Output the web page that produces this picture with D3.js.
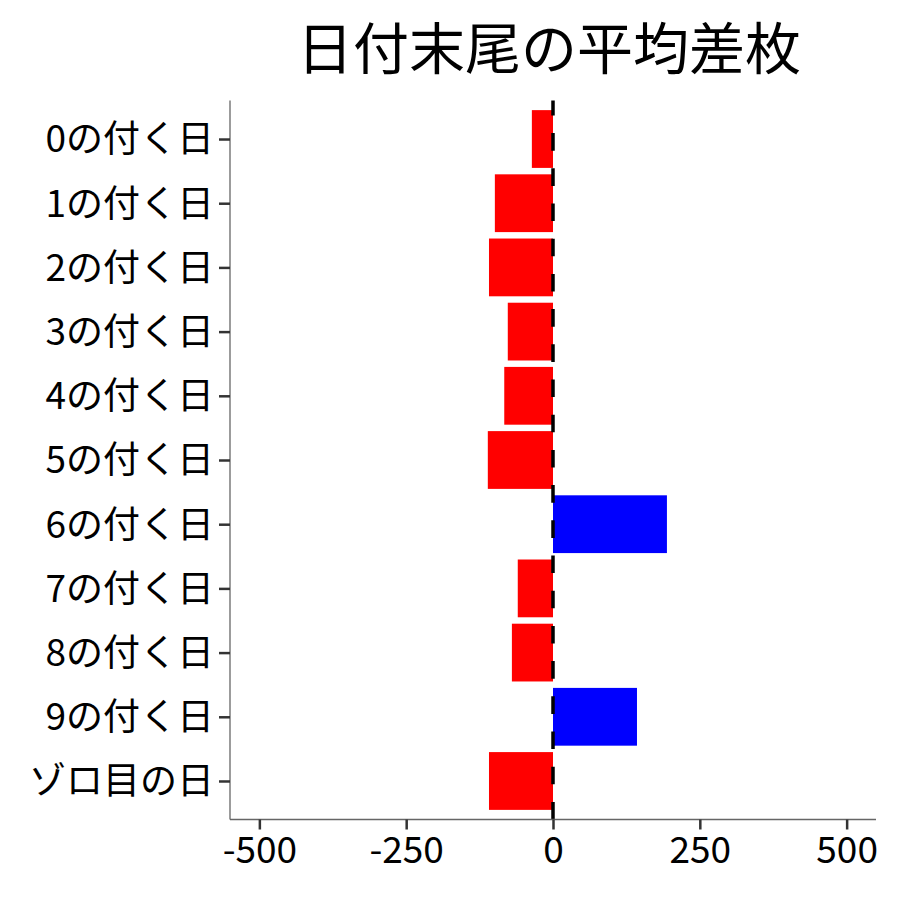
<!DOCTYPE html>
<html><head><meta charset="utf-8">
<script src="https://cdn.jsdelivr.net/npm/d3@7"></script>
<style>body{margin:0;background:#fff}svg{display:block}text{font-family:"Noto Sans CJK JP","Noto Sans",sans-serif}</style>
</head><body>
<script>
const categories = ["0の付く日","1の付く日","2の付く日","3の付く日","4の付く日","5の付く日","6の付く日","7の付く日","8の付く日","9の付く日","ゾロ目の日"];
const values = [-36,-99,-109,-77,-83,-111,194,-60,-70,143,-109];
const xTicks = [-500,-250,0,250,500];
const title = "日付末尾の平均差枚";

const W=900,H=900;
const L=230,R=876,T=100.5,B=819.5;
const svg=d3.select("body").append("svg").attr("width",W).attr("height",H);

const x=d3.scaleLinear().domain([-550,550]).range([L,R]);
const step=(B-T)/(categories.length-1+1.2);
const y=d3.scalePoint().domain(categories).range([T+0.6*step,B-0.6*step]);
const bh=step*0.9;

svg.selectAll("rect.bar").data(values).enter().append("rect")
  .attr("x",d=>x(Math.min(0,d))).attr("width",d=>Math.abs(x(d)-x(0)))
  .attr("y",(d,i)=>y(categories[i])-bh/2).attr("height",bh)
  .attr("fill",d=>d<0?"#ff0000":"#0000ff");

// dashed zero line drawn from bottom up
svg.append("line").attr("x1",x(0)).attr("x2",x(0)).attr("y1",B).attr("y2",T)
  .attr("stroke","#000").attr("stroke-width",3.5).attr("stroke-dasharray","17.6,17.6");

// axes
const xa=svg.append("g").attr("transform",`translate(0,${B})`)
  .call(d3.axisBottom(x).tickValues(xTicks).tickSize(10).tickPadding(6).tickFormat(d=>String(d)));
const ya=svg.append("g").attr("transform",`translate(${L},0)`)
  .call(d3.axisLeft(y).tickSize(11).tickPadding(5));
[xa,ya].forEach(g=>{
  g.select(".domain").attr("stroke","#666").attr("stroke-width",1.3);
  g.selectAll(".tick line").attr("stroke","#333").attr("stroke-width",2.5);
  g.selectAll(".tick text").attr("fill","#000").style("font-size","37px");
});
xa.selectAll(".tick text").attr("dy","0.78em").attr("y",15);
ya.selectAll(".tick text").attr("dy","0.35em");
xa.select(".domain").attr("d",`M${L},0H${R}`);
ya.select(".domain").attr("d",`M0,${T}V${B}`);

svg.append("text").attr("x",(L+R)/2-4).attr("y",44).attr("text-anchor","middle")
  .attr("dominant-baseline","central").style("font-size","56px").attr("fill","#000").text(title);
</script>
</body></html>
